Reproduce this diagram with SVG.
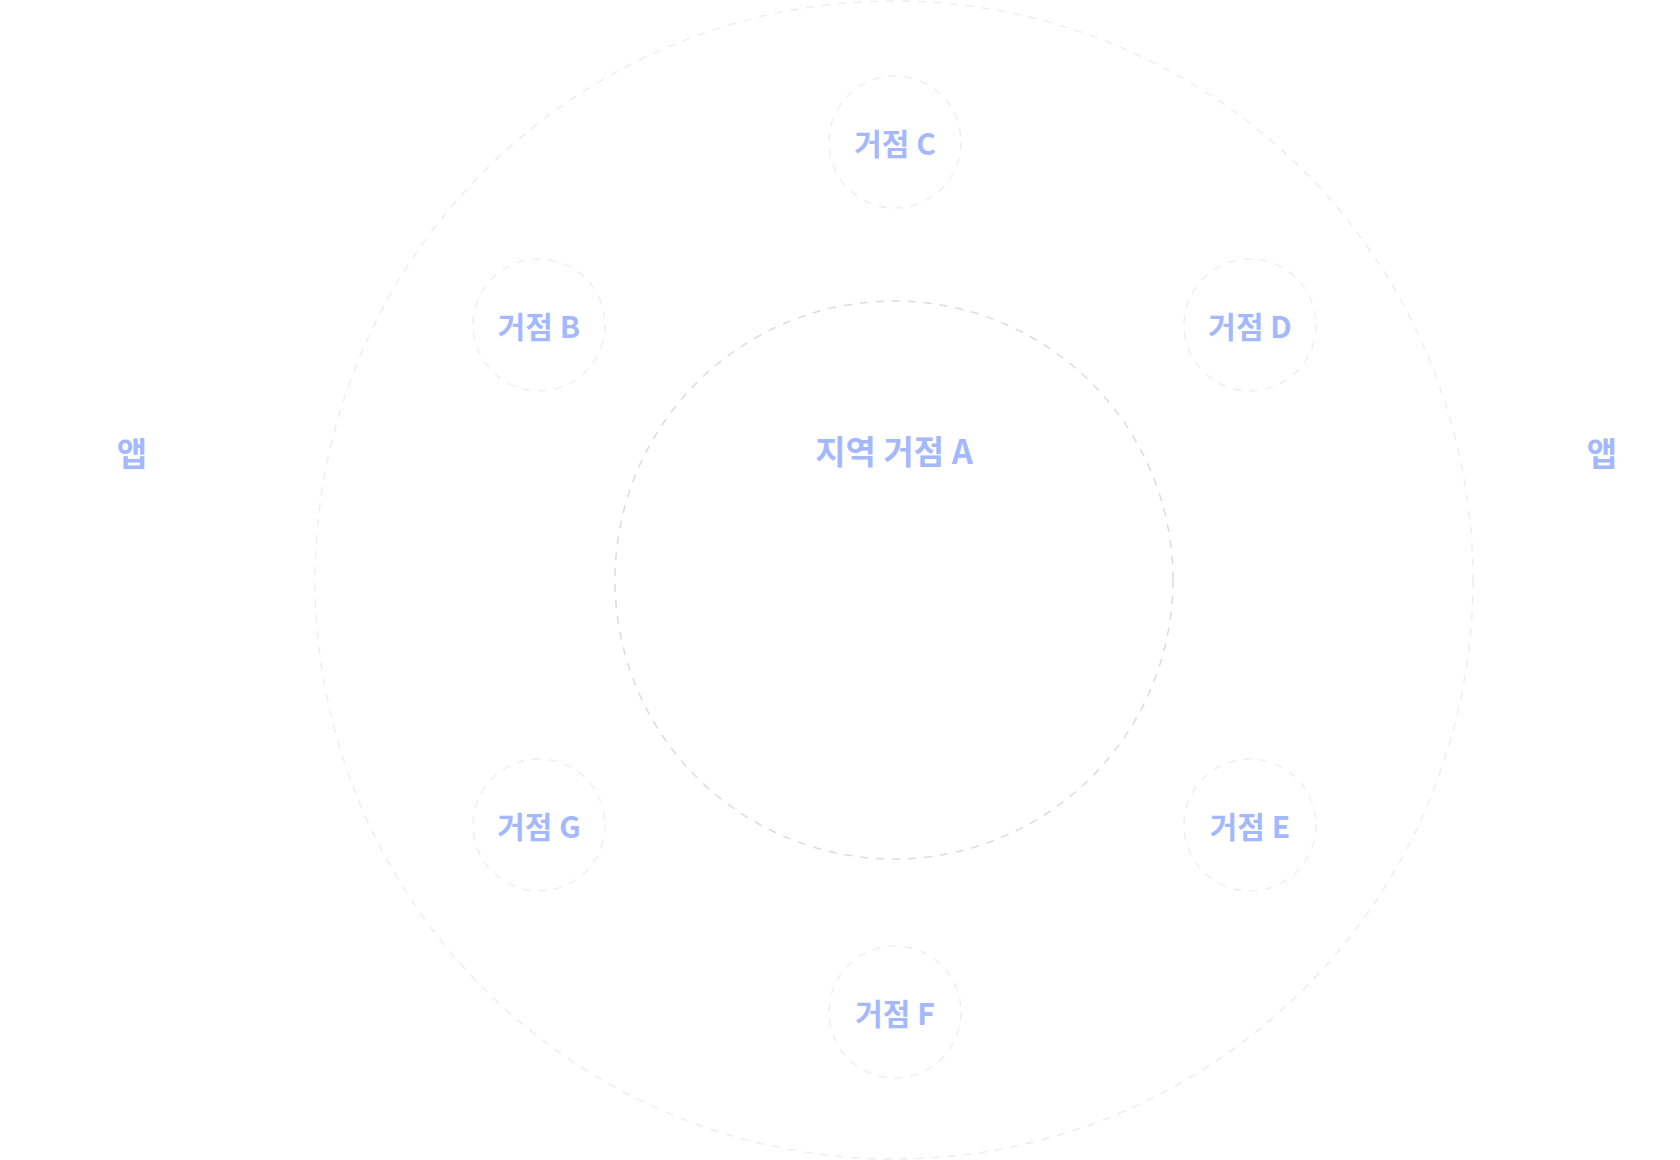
<svg xmlns="http://www.w3.org/2000/svg" width="1680" height="1160" viewBox="0 0 1680 1160">
<style>
.ring{fill:none;stroke-width:1.5;stroke-dasharray:8 8}
.outer{stroke:#eeeeee}
.inner{stroke:#dcdcdc}
.node{fill:none;stroke:#efefef;stroke-width:1.5;stroke-dasharray:8 8}
.lbl{font-family:"Noto Sans CJK KR","Noto Sans",sans-serif;font-weight:700;fill:#a3b8fd;text-anchor:middle;dominant-baseline:central}
.s{font-size:30px}
.l{font-size:33px}
</style>
<rect width="1680" height="1160" fill="#ffffff"/>
<g id="rings">
<circle class="ring outer" cx="894" cy="580" r="579"/>
<circle class="ring inner" cx="894" cy="580" r="279"/>
</g>
<g id="connectors"></g>
<g id="node-a"><text class="lbl l" x="894" y="450">지역 거점 A</text></g>
<g id="node-c"><circle class="node" cx="895" cy="142" r="66"/><text class="lbl s" x="895" y="142">거점 C</text></g>
<g id="node-b"><circle class="node" cx="539" cy="325" r="66"/><text class="lbl s" x="539" y="325">거점 B</text></g>
<g id="node-d"><circle class="node" cx="1250" cy="325" r="66"/><text class="lbl s" x="1250" y="325">거점 D</text></g>
<g id="node-g"><circle class="node" cx="539" cy="825" r="66"/><text class="lbl s" x="539" y="825">거점 G</text></g>
<g id="node-e"><circle class="node" cx="1250" cy="825" r="66"/><text class="lbl s" x="1250" y="825">거점 E</text></g>
<g id="node-f"><circle class="node" cx="895" cy="1012" r="66"/><text class="lbl s" x="895" y="1012">거점 F</text></g>
<g id="app-left"><text class="lbl l" x="132" y="452">앱</text></g>
<g id="app-right"><text class="lbl l" x="1602" y="452">앱</text></g>
</svg>
